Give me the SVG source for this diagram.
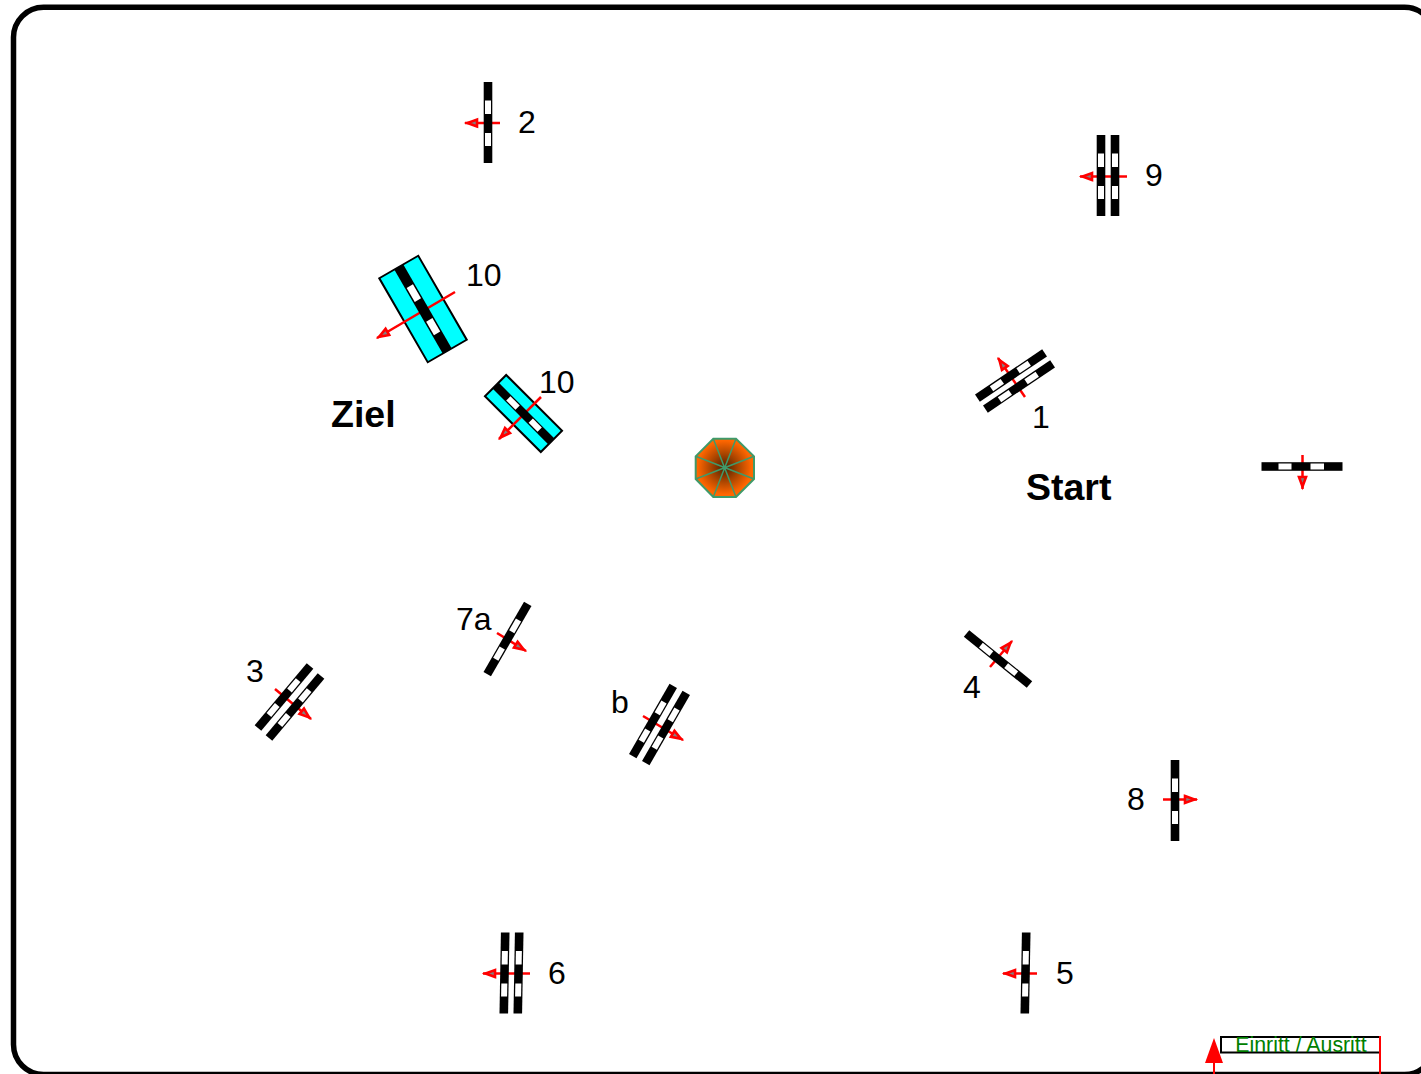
<svg xmlns="http://www.w3.org/2000/svg" width="1421" height="1074" viewBox="0 0 1421 1074">
<style>
text{font-family:"Liberation Sans",Arial,sans-serif;fill:#000}
.n{font-size:32px}
.b{font-size:37.500px;font-weight:bold}
.a{stroke:#f00;stroke-width:2.500;fill:none;marker-end:url(#h)}
.cy{fill:#0ff;stroke:#000;stroke-width:2}
.sp{stroke:#3f9a6a;stroke-width:1.500}
</style>
<defs>
<marker id="h" markerUnits="userSpaceOnUse" markerWidth="18" markerHeight="14" refX="14" refY="5" orient="auto" overflow="visible">
<path d="M2,1.500 L11.500,5 L2,8.500 Z" fill="#808080" stroke="#f00" stroke-width="2.600"/>
</marker>
<radialGradient id="g" gradientUnits="userSpaceOnUse" cx="724.5" cy="467.5" r="30">
<stop offset="0" stop-color="#4a2000"/><stop offset="0.45" stop-color="#a84400"/><stop offset="0.9" stop-color="#ff6600"/><stop offset="1" stop-color="#ff6600"/>
</radialGradient>
<g id="bar">
<rect x="-4.300" y="-40.500" width="8.600" height="81" fill="#000"/>
<rect x="-3" y="-22" width="6" height="13.500" fill="#fff"/>
<rect x="-3" y="10.500" width="6" height="13" fill="#fff"/>
</g>
</defs>
<rect id="frame" x="13.500" y="7.300" width="1421" height="1067.200" rx="30" ry="30" fill="#fff" stroke="#000" stroke-width="5.500"/>
<g id="plates">
<rect class="cy" x="-22.500" y="-48.500" width="45" height="97" transform="translate(423,309) rotate(-30)"/>
<rect class="cy" x="-15" y="-39.500" width="30" height="79" transform="translate(523.500,413.500) rotate(-45)"/>
</g>
<g id="connectors">
<path class="a" d="M500,123H465"/>
<path class="a" d="M1127,176.500H1080"/>
<path class="a" d="M455,292L377,338"/>
<path class="a" d="M541,397L499,439"/>
<path class="a" d="M1025,397L998,358"/>
<path class="a" d="M1302.500,455V489"/>
<path class="a" d="M990,667L1012,641"/>
<path class="a" d="M1163,799.500H1197"/>
<path class="a" d="M1037,973.500H1003"/>
<path class="a" d="M530,973.500H483"/>
<path class="a" d="M643,716L683,740"/>
<path class="a" d="M275,689L311,719"/>
<path class="a" d="M497,633L526,651"/>
</g>
<g id="gate-2"><use href="#bar" transform="translate(488,122.500)"/></g>
<g id="gate-9"><use href="#bar" transform="translate(1101,175.500)"/><use href="#bar" transform="translate(1115,175.500)"/></g>
<g id="gate-10a"><use href="#bar" transform="translate(423,309) rotate(-30) scale(1.200)"/></g>
<g id="gate-10b"><use href="#bar" transform="translate(523.500,413.500) rotate(-45) scale(1,0.975)"/></g>
<g id="gate-1"><use href="#bar" transform="translate(1011,375.500) rotate(56)"/><use href="#bar" transform="translate(1019,386.500) rotate(56)"/></g>
<g id="gate-start"><use href="#bar" transform="translate(1302,466.500) rotate(90)"/></g>
<g id="gate-4"><use href="#bar" transform="translate(998,659) rotate(-51)"/></g>
<g id="gate-8"><use href="#bar" transform="translate(1175,800.500)"/></g>
<g id="gate-5"><use href="#bar" transform="translate(1025.500,973) rotate(1)"/></g>
<g id="gate-6"><use href="#bar" transform="translate(504.500,973) rotate(1)"/><use href="#bar" transform="translate(518.500,973) rotate(1)"/></g>
<g id="gate-b"><use href="#bar" transform="translate(653,721) rotate(30)"/><use href="#bar" transform="translate(666,728) rotate(30)"/></g>
<g id="gate-3"><use href="#bar" transform="translate(284,697) rotate(40)"/><use href="#bar" transform="translate(295,707) rotate(40)"/></g>
<g id="gate-7a"><use href="#bar" transform="translate(507.500,639) rotate(30)"/></g>
<g id="pole">
<polygon points="713.300,438.700 736,438.700 754,456.300 754,479 736,497 713.300,497 695.700,479 695.700,456.300" fill="url(#g)" stroke="#3f9a6a" stroke-width="2"/>
<path class="sp" d="M713.300,438.700L736,497M736,438.700L713.300,497M754,456.300L695.700,479M754,479L695.700,456.300"/>
</g>
<g id="labels">
<text class="n" x="518" y="133">2</text>
<text class="n" x="1145" y="186">9</text>
<text class="n" x="466" y="286">10</text>
<text class="n" x="539" y="392.500">10</text>
<text class="n" x="1032" y="428">1</text>
<text class="n" x="246" y="682">3</text>
<text class="n" x="456" y="630">7a</text>
<text class="n" x="611" y="713">b</text>
<text class="n" x="963" y="698">4</text>
<text class="n" x="1127" y="810">8</text>
<text class="n" x="1056" y="984">5</text>
<text class="n" x="548" y="984">6</text>
<text class="b" x="331" y="427">Ziel</text>
<text class="b" x="1026" y="500">Start</text>
</g>
<g id="legend">
<rect x="1221" y="1037" width="159" height="15.500" fill="#fff" stroke="#000" stroke-width="2"/>
<text x="1301" y="1052" text-anchor="middle" style="font-size:21.300px;fill:#008000">Einritt / Ausritt</text>
<path d="M1380,1036V1074M1214,1060V1074" stroke="#f00" stroke-width="2" fill="none"/>
<polygon points="1214,1038 1223,1063 1205,1063" fill="#f00"/>
</g>
</svg>
